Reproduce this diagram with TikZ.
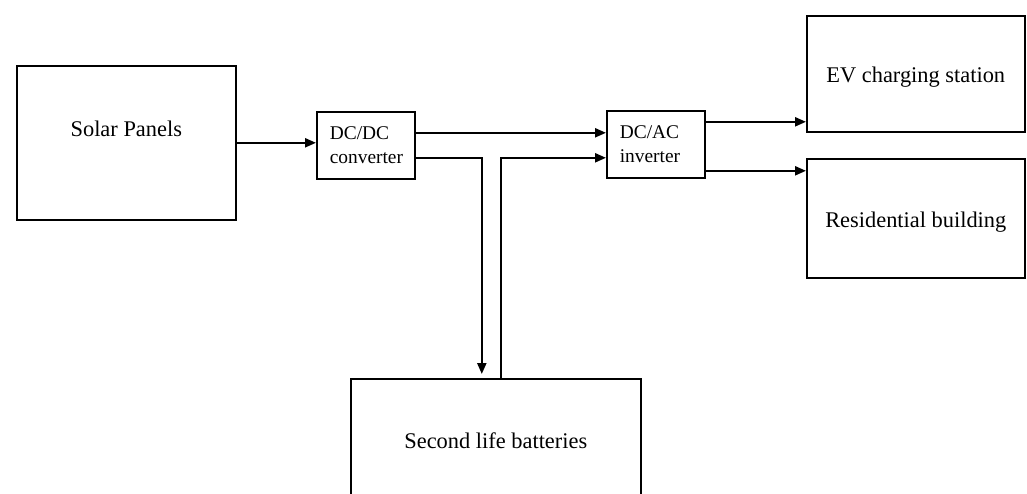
\documentclass[tikz,border=0pt]{standalone}
\usepackage{fontspec}
\setmainfont{Liberation Serif}
\usetikzlibrary{arrows.meta,calc}

\begin{document}
\begin{tikzpicture}[x=0.5pt,y=-0.5pt]
\tikzstyle{bigblock} = [rectangle, draw, line width=0.8pt, anchor=north west,
inner sep=0pt, font=\fontsize{11.2}{13.4}\selectfont]
\tikzstyle{conv} = [rectangle, draw, line width=0.8pt, anchor=north west,
minimum width=49pt, minimum height=33.5pt, inner xsep=6.5pt, inner ysep=0pt,
text width=36pt, align=left, font=\fontsize{9.7}{12}\selectfont]
\tikzstyle{line} = [draw, line width=1.1pt, -{Triangle[length=5.5pt,width=4.5pt]}];
\clip (0,0) rectangle (1027,493);
% sources
\node [bigblock, minimum width=109.5pt, minimum height=77pt,
label={[font=\fontsize{11.2}{13.4}\selectfont,yshift=7pt]center:Solar Panels}] (solar) at (16,65) {};
\node [conv] (dcdc) at (316,111) {DC/DC\\converter};
\node [conv] (dcac) at (606,110) {DC/AC\\inverter};
% loads
\node [bigblock, minimum width=109pt, minimum height=58pt,
label={[font=\fontsize{11.2}{13.4}\selectfont,yshift=-1.8pt]center:EV charging station}] (ev) at (806,15) {};
\node [bigblock, minimum width=109pt, minimum height=59.5pt,
label={[font=\fontsize{11.2}{13.4}\selectfont,yshift=-1.8pt]center:Residential building}] (res) at (806,158) {};
% storage
\node [bigblock, minimum width=145pt, minimum height=62pt] (bat) at (350,378) {Second life batteries};

\path [line] (solar.east) -- (solar.east -| dcdc.west);
\path [line] ([yshift=6.25pt]dcdc.east) -- ([yshift=6.25pt]dcdc.east -| dcac.west);
\path [line] ([yshift=-6.25pt]dcdc.east) -| ([xshift=-7pt,yshift=2pt]bat.north);
\path [line] ([xshift=2.5pt]bat.north) |- ([yshift=-6.75pt]dcac.west);
\path [line] ([yshift=11.25pt]dcac.east) -- ([yshift=11.25pt]dcac.east -| ev.west);
\path [line] ([yshift=-13.25pt]dcac.east) -- ([yshift=-13.25pt]dcac.east -| res.west);
\end{tikzpicture}
\end{document}
